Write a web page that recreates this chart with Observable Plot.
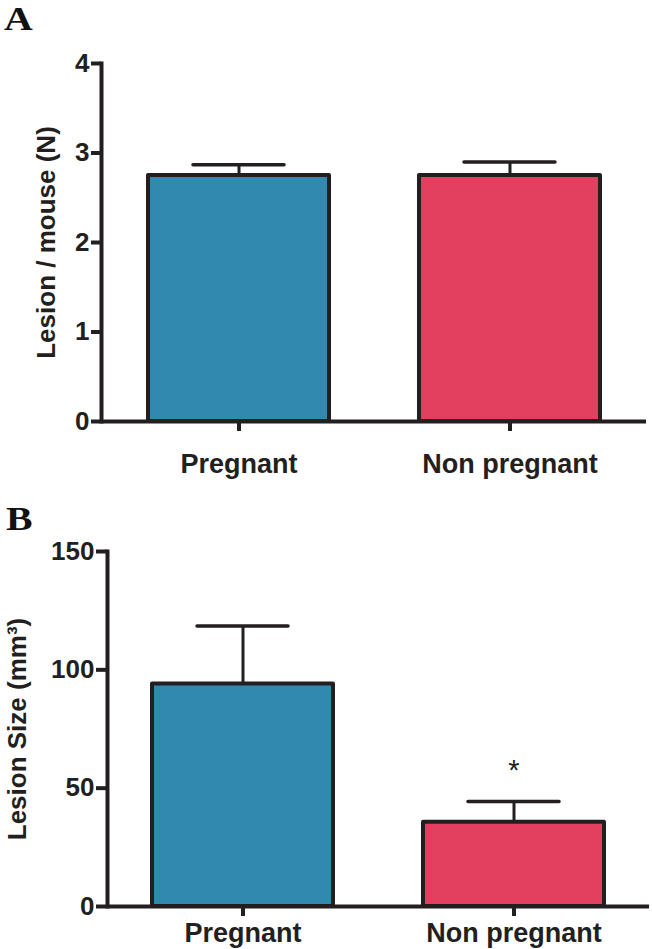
<!DOCTYPE html>
<html>
<head>
<meta charset="utf-8">
<script src="https://cdn.jsdelivr.net/npm/d3@7"></script>
<script src="https://cdn.jsdelivr.net/npm/@observablehq/plot@0.6"></script>
<style>
  html, body { margin: 0; padding: 0; background: #fff; }
  #wrap { position: relative; width: 652px; height: 949px; overflow: hidden; background: #fff; }
  .panel-letter { position: absolute; font-family: "Liberation Serif", "DejaVu Serif", serif; font-weight: bold; font-size: 34px; color: #111; line-height: 1; transform: scaleX(1.17); transform-origin: left top; }
  #wrap svg { position: absolute; left: 0; display: block; }
</style>
</head>
<body>
<div id="wrap">
  <div class="panel-letter" style="left:4px; top:2px;">A</div>
  <div class="panel-letter" style="left:6px; top:502px;">B</div>
</div>
<script>
// ---- data ----
const groups = ["Pregnant", "Non pregnant"];
const groupColors = ["#3189b0", "#e3405f"];
const lesionsPerMouse = [2.75, 2.75];
const lesionsPerMouseSem = [0.12, 0.15];
const lesionSize = [94, 35.6];
const lesionSizeSem = [24.5, 8.8];
const significance = ["", "*"];
const ticksA = [0, 1, 2, 3, 4];
const ticksB = [0, 50, 100, 150];
const labelA = "Lesion / mouse (N)";
const labelB = "Lesion Size (mm³)";

const ink = "#231f20";

function panel({means, sems, sig, ticks, domain, label, height, marginTop, marginBottom, marginLeft, marginRight, paddingOuter, xTickPadding, labelDx, yTickSize}) {
  const rows = groups.map((g, i) => ({group: g, mean: means[i], sem: sems[i], top: means[i] + sems[i], sig: sig ? sig[i] : ""}));
  return Plot.plot({
    width: 652,
    height,
    marginTop, marginBottom, marginLeft, marginRight,
    style: {fontFamily: "'Liberation Sans', Arial, sans-serif", fontWeight: "bold", fontSize: "25px", color: ink, background: "transparent", overflow: "visible"},
    x: {domain: groups, paddingInner: 0.333, paddingOuter, axis: null},
    y: {domain, axis: null},
    color: {domain: groups, range: groupColors},
    marks: [
      Plot.ruleX(rows, {x: "group", y1: "mean", y2: "top", stroke: ink, strokeWidth: 3}),
      Plot.tickY(rows, {x: "group", y: "top", stroke: ink, strokeWidth: 3.5, insetLeft: 45, insetRight: 45, strokeLinecap: "round"}),
      Plot.barY(rows, {x: "group", y: "mean", fill: "group", stroke: ink, strokeWidth: 4, strokeLinejoin: "round"}),
      Plot.text(rows, {x: "group", y: "top", text: "sig", dy: -31, fontSize: 29, fontWeight: "normal", fill: ink}),
      Plot.ruleY([0], {stroke: ink, strokeWidth: 4}),
      Plot.frame({anchor: "left", stroke: ink, strokeWidth: 4}),
      Plot.axisY({ticks, tickFormat: d3.format("d"), tickSize: yTickSize, tickPadding: 2, stroke: ink, strokeWidth: 4, fill: ink, fontSize: 26, label: null}),
      Plot.axisX({tickSize: 10, tickPadding: xTickPadding, stroke: ink, strokeWidth: 4, fill: ink, fontSize: 27, label: null}),
      Plot.text([label], {frameAnchor: "left", textAnchor: "middle", rotate: -90, dx: labelDx, fontSize: 26, fontWeight: "bold", fill: ink})
    ]
  });
}

const wrap = document.getElementById("wrap");

const svgA = panel({
  means: lesionsPerMouse, sems: lesionsPerMouseSem, sig: null,
  ticks: ticksA, domain: [0, 4], label: labelA,
  height: 480, marginTop: 63, marginBottom: 59, marginLeft: 101, marginRight: 6,
  paddingOuter: 0.17, xTickPadding: 22, labelDx: -55, yTickSize: 10
});
svgA.style.top = "0px";
wrap.appendChild(svgA);

const svgB = panel({
  means: lesionSize, sems: lesionSizeSem, sig: significance,
  ticks: ticksB, domain: [0, 150], label: labelB,
  height: 469, marginTop: 71, marginBottom: 43, marginLeft: 107, marginRight: 3,
  paddingOuter: 0.166, xTickPadding: 6, labelDx: -90, yTickSize: 11
});
svgB.style.top = "480px";
wrap.appendChild(svgB);
</script>
</body>
</html>
